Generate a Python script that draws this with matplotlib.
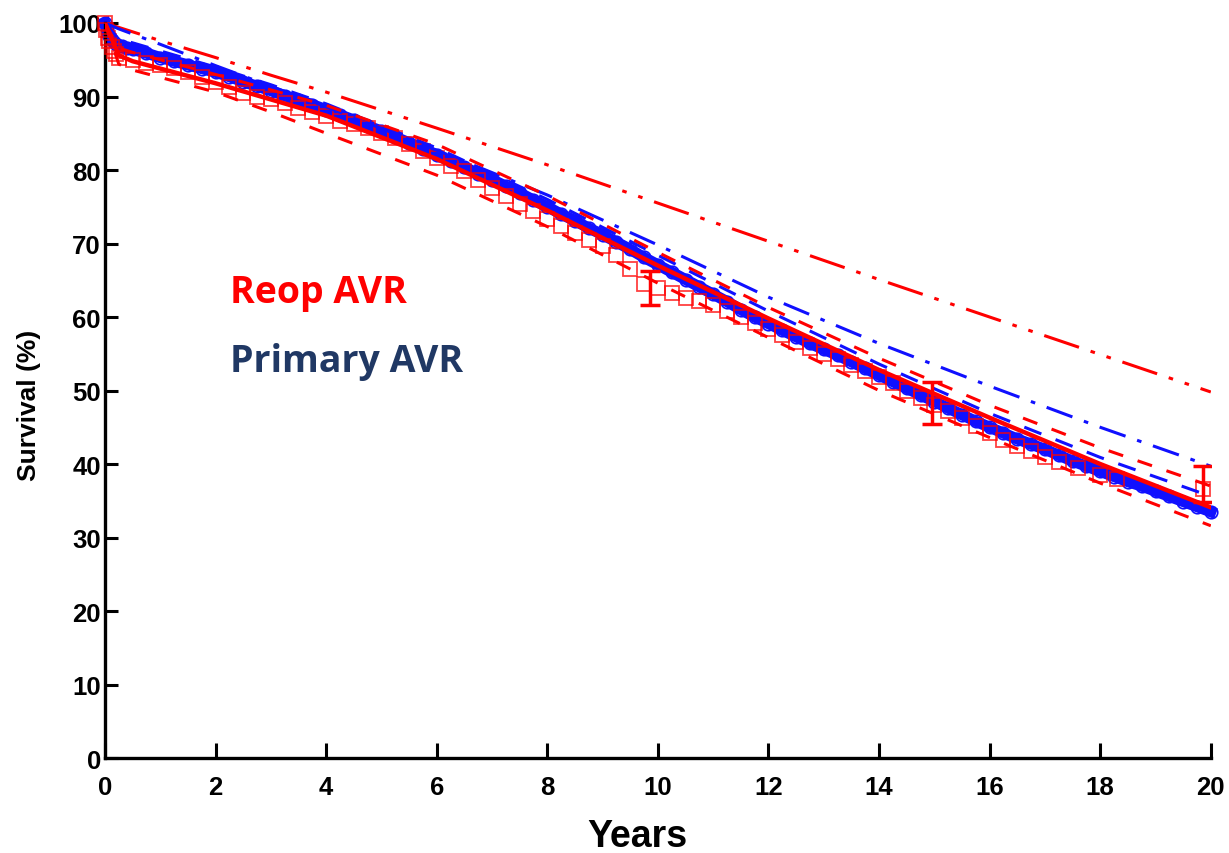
import numpy as np
import matplotlib.pyplot as plt

# Kaplan-Meier style estimates (years, survival %)
primary_years = [0, 0.03, 0.06, 0.1, 0.15, 0.2, 0.3, 0.4,
                 0.5, 0.75, 1.0, 1.25, 1.5, 1.75, 2.0, 2.25, 2.5, 2.75, 3.0, 3.25,
                 3.5, 3.75, 4.0, 4.25, 4.5, 4.75, 5.0, 5.25, 5.5, 5.75, 6.0, 6.25,
                 6.5, 6.75, 7.0, 7.25, 7.5, 7.75, 8.0, 8.25, 8.5, 8.75, 9.0, 9.25,
                 9.5, 9.75, 10.0, 10.25, 10.5, 10.75, 11.0, 11.25, 11.5, 11.75, 12.0, 12.25,
                 12.5, 12.75, 13.0, 13.25, 13.5, 13.75, 14.0, 14.25, 14.5, 14.75, 15.0, 15.25,
                 15.5, 15.75, 16.0, 16.25, 16.5, 16.75, 17.0, 17.25, 17.5, 17.75, 18.0, 18.25,
                 18.5, 18.75, 19.0, 19.25, 19.5, 19.75, 20.0]
primary_surv = [100, 99.2, 98.5, 97.9, 97.5, 97.2, 96.9, 96.6,
                96.4, 95.9, 95.3, 94.8, 94.3, 93.8, 93.3, 92.7, 92.0, 91.4, 90.8, 90.1,
                89.5, 88.9, 88.2, 87.5, 86.8, 86.0, 85.3, 84.5, 83.7, 82.9, 82.0, 81.2,
                80.4, 79.5, 78.7, 77.8, 76.9, 75.9, 75.0, 74.0, 73.1, 72.1, 71.2, 70.2,
                69.2, 68.1, 67.1, 66.1, 65.1, 64.1, 63.1, 62.1, 61.0, 60.0, 59.1, 58.2,
                57.3, 56.4, 55.6, 54.8, 53.9, 53.0, 52.1, 51.2, 50.3, 49.4, 48.5, 47.6,
                46.7, 45.8, 45.0, 44.2, 43.4, 42.7, 42.0, 41.2, 40.4, 39.7, 39.0, 38.3,
                37.6, 37.0, 36.3, 35.6, 34.9, 34.2, 33.5]

reop_years = [0, 0.02, 0.05, 0.08, 0.12, 0.16, 0.2, 0.25,
              0.5, 0.75, 1.0, 1.25, 1.5, 1.75, 2.0, 2.25, 2.5, 2.75, 3.0, 3.25,
              3.5, 3.75, 4.0, 4.25, 4.5, 4.75, 5.0, 5.25, 5.5, 5.75, 6.0, 6.25,
              6.5, 6.75, 7.0, 7.25, 7.5, 7.75, 8.0, 8.25, 8.5, 8.75, 9.0, 9.25,
              9.5, 9.75, 10.0, 10.25, 10.5, 10.75, 11.0, 11.25, 11.5, 11.75, 12.0, 12.25,
              12.5, 12.75, 13.0, 13.25, 13.5, 13.75, 14.0, 14.25, 14.5, 14.75, 15.0, 15.25,
              15.5, 15.75, 16.0, 16.25, 16.5, 16.75, 17.0, 17.25, 17.6, 18.0, 18.3]
reop_surv = [100, 99.0, 98.0, 97.5, 96.8, 96.2, 95.8, 95.3,
             95.0, 94.6, 94.3, 93.9, 93.3, 92.7, 92.0, 91.3, 90.5, 89.9, 89.6, 89.1,
             88.5, 87.9, 87.3, 86.6, 86.2, 85.7, 85.0, 84.4, 83.6, 82.6, 81.6, 80.6,
             79.8, 78.7, 77.6, 76.4, 75.4, 74.4, 73.4, 72.4, 71.4, 70.5, 69.6, 68.4,
             66.6, 64.5, 64.0, 63.2, 62.6, 62.2, 61.6, 60.8, 60.0, 59.2, 58.4, 57.5,
             56.6, 55.8, 55.0, 54.3, 53.5, 52.7, 51.8, 51.0, 50.0, 49.0, 48.0, 47.2,
             46.3, 45.2, 44.2, 43.3, 42.5, 41.8, 41.0, 40.3, 39.4, 38.5, 37.9]

# error bars on the reop curve
err_years = [9.86, 14.95, 19.85]
err_surv = [64.0, 48.3, 37.3]
err_size = [2.3, 2.9, 2.4]
end_square = (19.85, 36.6)

# parametric / reference curves
fit_years = [0, 0.25, 0.5, 1, 2, 3, 4, 6, 8, 10, 12, 14, 16, 18, 20]
reop_fit = [100, 95.6, 94.8, 93.8, 91.8, 89.6, 87.4, 81.5, 74.5, 67.0, 59.8, 52.8, 46.3, 40.0, 34.1]
reop_upper = [100, 96.6, 96.0, 95.0, 93.0, 90.9, 88.8, 83.5, 76.5, 68.8, 61.3, 54.4, 48.0, 42.2, 37.0]
reop_lower = [100, 94.4, 93.6, 92.6, 90.6, 87.9, 85.0, 79.3, 72.3, 64.6, 57.2, 50.0, 43.6, 37.4, 31.6]
primary_fit = [100, 97.8, 97.3, 96.2, 94.0, 91.6, 89.0, 83.0, 76.0, 68.4, 60.8, 53.6, 46.9, 40.9, 35.6]
primary_ref = [100, 99.2, 98.5, 97.1, 94.2, 91.4, 88.6, 82.7, 76.6, 69.8, 62.7, 56.4, 50.6, 45.0, 39.7]
general_pop = [100, 99.4, 98.8, 97.6, 95.3, 92.9, 90.6, 85.7, 80.7, 75.5, 70.3, 65.1, 60.0, 54.9, 49.8]

RED = '#ff0000'
BLUE = '#1010ff'
NAVY = '#203864'

fig = plt.figure(figsize=(12.29, 8.54), dpi=100)
ax = fig.add_axes([0.0854, 0.1112, 0.8998, 0.8607])

# primary AVR KM band
ax.plot(primary_years, primary_surv, color=BLUE, lw=8, zorder=2, clip_on=False)
ax.plot(primary_years, primary_surv, ls='none', marker='o', ms=9, mfc='none',
        mec=BLUE, mew=1.2, zorder=2, clip_on=False)

# reop AVR KM squares
ax.plot(reop_years, reop_surv, ls='none', marker='s', ms=10, mfc='none',
        mec=RED, mew=1.3, alpha=0.75, zorder=3, clip_on=False)
ax.plot(*end_square, ls='none', marker='s', ms=10, mfc='none', mec=RED, mew=1.3, alpha=0.75)
ax.errorbar(err_years, err_surv, yerr=err_size, fmt='none', ecolor=RED,
            elinewidth=2.5, capsize=7, capthick=2.5, zorder=5)

# reference lines
ax.plot(fit_years, general_pop, color=RED, lw=2.2, dashes=[12, 4, 1.5, 4, 1.5, 4], zorder=4)
ax.plot(fit_years, primary_ref, color=BLUE, lw=2.2, dashes=[9, 4, 1.5, 4], zorder=4)
ax.plot(fit_years, primary_fit, color=BLUE, lw=2.2, dashes=[6, 5], zorder=4)
ax.plot(fit_years, reop_upper, color=RED, lw=2.2, dashes=[5, 5], zorder=4)
ax.plot(fit_years, reop_lower, color=RED, lw=2.2, dashes=[5, 5], zorder=4)
ax.plot(fit_years, reop_fit, color=RED, lw=3.2, zorder=6)

ax.text(2.26, 62.0, 'Reop AVR', color=RED, fontsize=27, fontweight='bold',
        family='Open Sans', va='baseline')
ax.text(2.26, 52.7, 'Primary AVR', color=NAVY, fontsize=27, fontweight='bold',
        family='Open Sans', va='baseline')

ax.set_xlim(0, 20)
ax.set_ylim(0, 100)
ax.set_xticks(np.arange(0, 21, 2))
ax.set_yticks(np.arange(0, 101, 10))
for s in ['top', 'right']:
    ax.spines[s].set_visible(False)
for s in ['left', 'bottom']:
    ax.spines[s].set_linewidth(2.4)
ax.tick_params(axis='x', direction='in', length=11, width=2.2, pad=12,
               labelsize=18.5)
ax.tick_params(axis='y', direction='in', length=9, width=2.2, pad=3,
               labelsize=18.5)
for lab in ax.get_xticklabels() + ax.get_yticklabels():
    lab.set_family('Liberation Sans')
    lab.set_fontweight('bold')

fig.text(637 / 1229, 1 - 837 / 854, 'Years', fontsize=27, fontweight='bold',
         family='Liberation Sans', ha='center', va='center')
fig.text(29 / 1229, 1 - 405 / 854, 'Survival (%)', fontsize=19, fontweight='bold',
         family='Liberation Sans', ha='center', va='center', rotation=90)

fig.savefig('out.png', dpi=100)
